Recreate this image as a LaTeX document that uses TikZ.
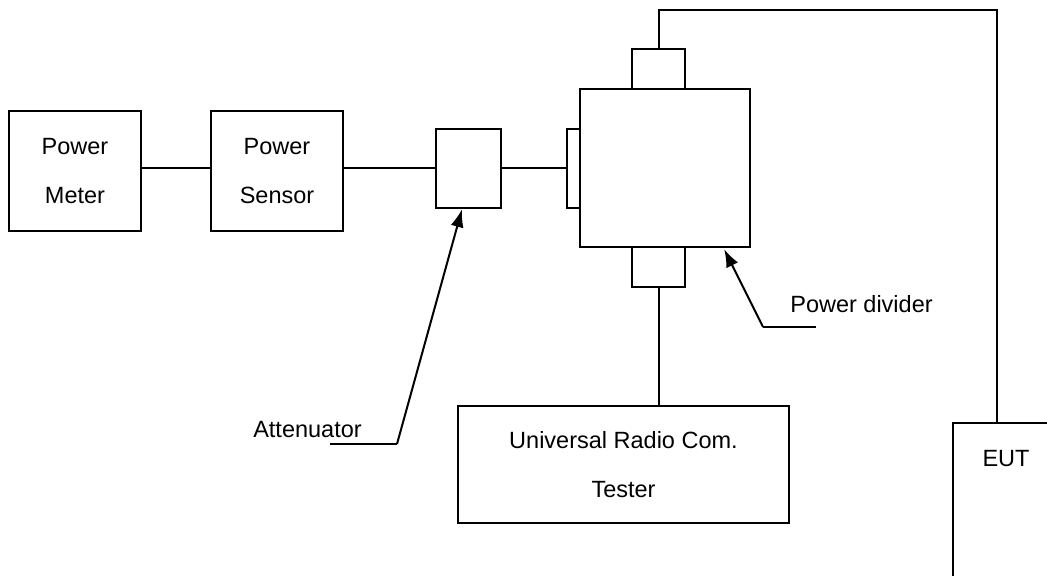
\documentclass[tikz,border=0pt]{standalone}
\usepackage{fontspec}
\setmainfont{Liberation Sans}
\usetikzlibrary{arrows.meta,calc}
\begin{document}
\begin{tikzpicture}[x=1pt,y=-1pt,
  box/.style={draw,line width=2.3pt,rectangle,inner sep=0pt,align=center,
    font=\fontsize{23.5}{49}\selectfont},
  wire/.style={line width=2pt},
  pointer/.style={line width=2pt,-{Latex[length=18pt,width=13pt]}},
  lab/.style={inner sep=0pt,anchor=base,font=\fontsize{23.5}{28}\selectfont}]
\useasboundingbox (0,0) rectangle (1047,576);
\node[box,minimum width=132,minimum height=120] (pm) at (75,171) {Power\\Meter};
\node[box,minimum width=132,minimum height=120] (ps) at (277,171) {Power\\Sensor};
\node[box,minimum width=65,minimum height=79] (att) at (468.5,168.5) {};
\node[box,minimum width=13,minimum height=79] (lc) at (573.5,168.5) {};
\node[box,minimum width=170,minimum height=158] (pd) at (665,168) {};
\node[box,minimum width=53,minimum height=40] (tc) at (658.5,69) {};
\node[box,minimum width=53,minimum height=40] (bc) at (658.5,267) {};
\node[box,minimum width=331,minimum height=117] (urt) at (623.5,464.5) {Universal Radio Com.\\Tester};
% EUT (extends beyond the picture)
\draw[line width=2.3pt] (1047,423) -- (953,423) -- (953,576);
\node[lab] (eut) at (1006,466) {EUT};
\coordinate (eutTop) at (997,423);
\coordinate (corner) at (997,10);
% wires
\draw[wire] (pm.east |- 0,168) -- (ps.west |- 0,168);
\draw[wire] (ps.east |- 0,168) -- (att.west |- 0,168);
\draw[wire] (att.east |- 0,168) -- (lc.west |- 0,168);
\draw[wire] (tc.north) |- (corner) -- (eutTop);
\draw[wire] (bc.south) -- (bc.south |- urt.north);
% labels and pointers
\node[lab] (attlab) at (307.5,437) {Attenuator};
\coordinate (attbend) at (397,444);
\draw[wire] (330,444) -- (attbend);
\draw[pointer] (attbend) -- ($(att.south)+(-6.5,0)$);
\node[lab] (pdlab) at (861.5,312) {Power divider};
\coordinate (pdbend) at (763,327);
\draw[wire] (816,327) -- (pdbend);
\draw[pointer] (pdbend) -- ($(pd.south east)+(-27,1)$);
\end{tikzpicture}
\end{document}
